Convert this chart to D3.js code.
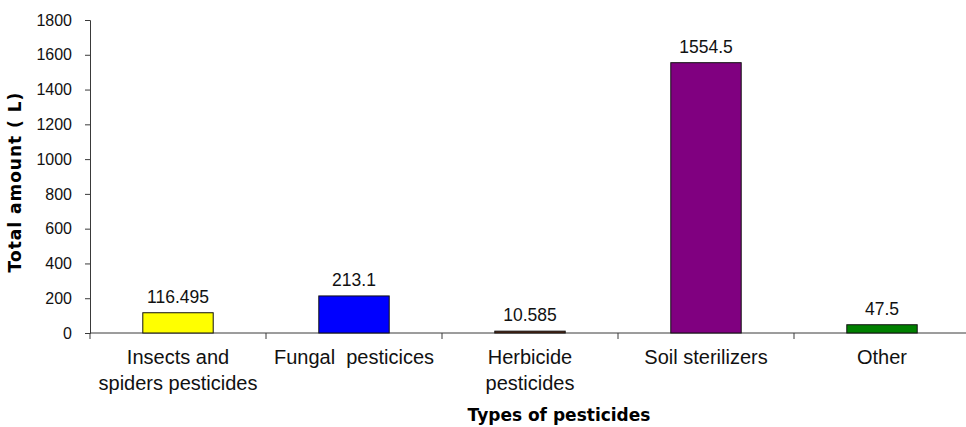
<!DOCTYPE html>
<html>
<head>
<meta charset="utf-8">
<script src="https://cdn.jsdelivr.net/npm/d3@7"></script>
<style>
  html, body { margin: 0; padding: 0; background: #fff; }
  svg { display: block; }
</style>
</head>
<body>
<svg id="chart" width="966" height="427"></svg>
<script>
// Pesticide usage by type (litres)
const categories = [
  ["Insects and", "spiders pesticides"],
  ["Fungal  pesticices"],
  ["Herbicide", "pesticides"],
  ["Soil sterilizers"],
  ["Other"]
];
const values = [116.495, 213.1, 10.585, 1554.5, 47.5];
const valueLabels = ["116.495", "213.1", "10.585", "1554.5", "47.5"];
const barColors = ["#FFFF00", "#0000FF", "#652A10", "#800080", "#008000"];
const yTicks = [0, 200, 400, 600, 800, 1000, 1200, 1400, 1600, 1800];

const svg = d3.select("#chart");
const plotLeft = 90, plotRight = 970, plotTop = 20, plotBottom = 333;
const axisColor = "#3a3a3a";

const x = d3.scaleBand()
  .domain(d3.range(values.length))
  .range([plotLeft, plotRight])
  .paddingInner(0.6)
  .paddingOuter(0.3);

const y = d3.scaleLinear().domain([0, 1800]).range([plotBottom, plotTop]);

// y axis
const yAxis = svg.append("g")
  .attr("transform", `translate(${plotLeft},0)`)
  .call(d3.axisLeft(y).tickValues(yTicks).tickSize(5).tickPadding(13).tickFormat(d3.format("d")));
yAxis.select(".domain").attr("stroke", axisColor);
yAxis.selectAll(".tick line").attr("stroke", axisColor);
yAxis.selectAll(".tick text")
  .attr("font-family", "Liberation Sans, Arial, sans-serif")
  .attr("font-size", 16)
  .attr("fill", "#111");

// x axis with ticks at category boundaries
const step = x.step();
const bounds = d3.range(values.length).map(i => plotLeft + i * step);
svg.append("line")
  .attr("x1", plotLeft).attr("x2", plotRight)
  .attr("y1", plotBottom).attr("y2", plotBottom)
  .attr("stroke", axisColor);
svg.append("g").selectAll("line")
  .data(bounds)
  .join("line")
  .attr("x1", d => d).attr("x2", d => d)
  .attr("y1", plotBottom).attr("y2", plotBottom + 6)
  .attr("stroke", axisColor);

// bars
svg.append("g").selectAll("rect")
  .data(values)
  .join("rect")
  .attr("x", (d, i) => x(i))
  .attr("width", x.bandwidth())
  .attr("y", d => y(d))
  .attr("height", d => Math.max(y(0) - y(d), 0))
  .attr("fill", (d, i) => barColors[i])
  .attr("stroke", "#111")
  .attr("stroke-width", 1);

// value labels
svg.append("g").selectAll("text")
  .data(values)
  .join("text")
  .attr("x", (d, i) => x(i) + x.bandwidth() / 2)
  .attr("y", d => y(d) - 10)
  .attr("text-anchor", "middle")
  .attr("font-family", "Liberation Sans, Arial, sans-serif")
  .attr("font-size", 17.5)
  .attr("fill", "#111")
  .text((d, i) => valueLabels[i]);

// category labels
const catG = svg.append("g").selectAll("text")
  .data(categories)
  .join("text")
  .attr("x", (d, i) => x(i) + x.bandwidth() / 2)
  .attr("y", plotBottom + 31)
  .attr("text-anchor", "middle")
  .attr("font-family", "Liberation Sans, Arial, sans-serif")
  .attr("font-size", 20)
  .attr("fill", "#111")
  .style("white-space", "pre");
catG.selectAll("tspan")
  .data(d => d)
  .join("tspan")
  .attr("x", function () { return d3.select(this.parentNode).attr("x"); })
  .attr("dy", (d, i) => i === 0 ? 0 : 26)
  .text(d => d);

// axis titles
svg.append("text")
  .attr("x", 559).attr("y", 421)
  .attr("text-anchor", "middle")
  .attr("font-family", "DejaVu Sans, Verdana, sans-serif")
  .attr("font-weight", "bold")
  .attr("font-size", 17)
  .attr("fill", "#000")
  .text("Types of pesticides");

svg.append("text")
  .attr("transform", "translate(21,182) rotate(-90)")
  .attr("text-anchor", "middle")
  .attr("font-family", "DejaVu Sans, Verdana, sans-serif")
  .attr("font-weight", "bold")
  .attr("font-size", 17)
  .attr("letter-spacing", 1)
  .attr("fill", "#000")
  .style("white-space", "pre")
  .text("Total amount ( L)");
</script>
</body>
</html>
